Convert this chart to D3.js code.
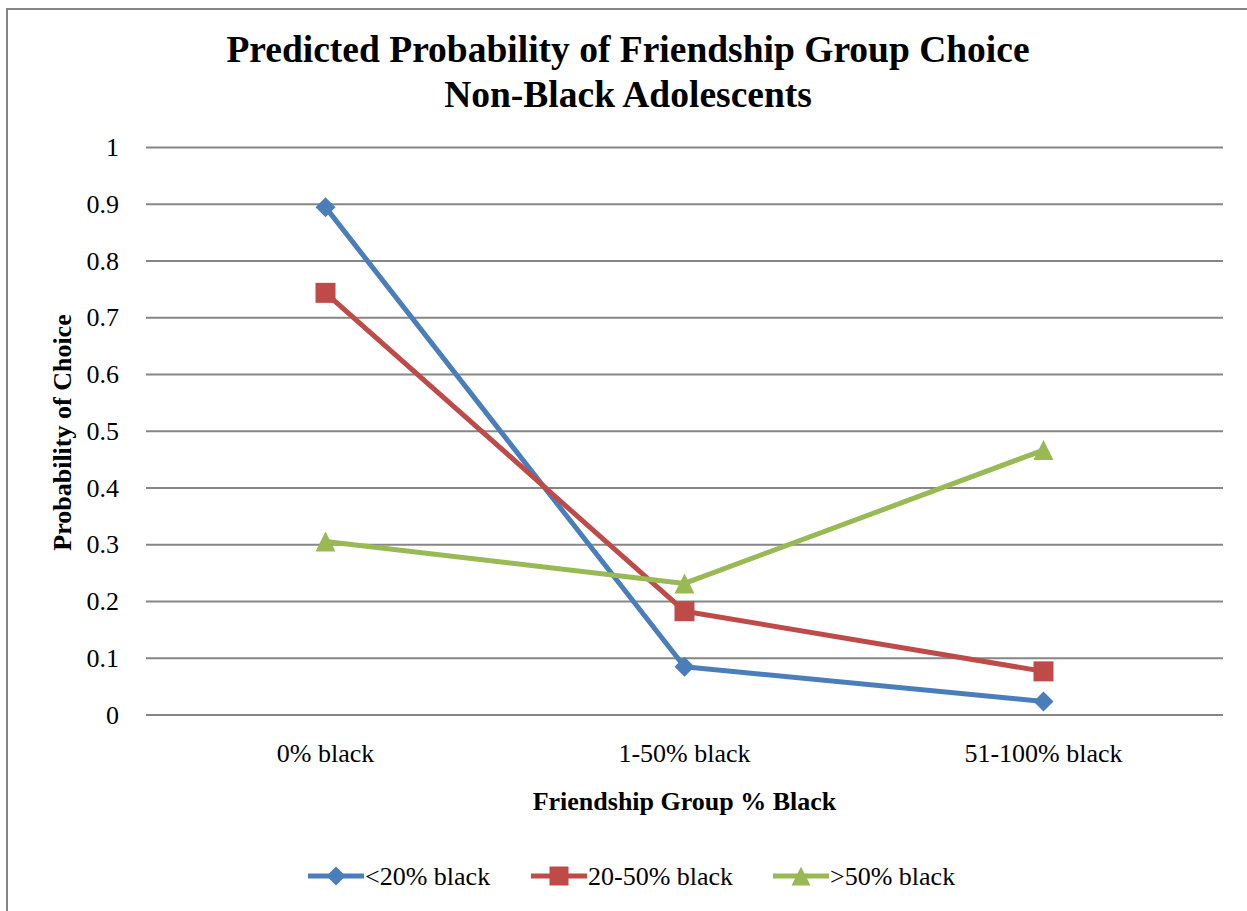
<!DOCTYPE html>
<html>
<head>
<meta charset="utf-8">
<script src="https://cdnjs.cloudflare.com/ajax/libs/d3/7.8.5/d3.min.js"></script>
<style>
  body { margin: 0; background: #fff; }
  text { font-family: "Liberation Serif", "Times New Roman", serif; fill: #000; }
</style>
</head>
<body>
<div id="chart"></div>
<script>
const WIDTH = 1247;
const HEIGHT = 911;
const PLOT = { LEFT: 146, RIGHT: 1223, TOP: 147, BOTTOM: 714.5 };

const categories = ['0% black', '1-50% black', '51-100% black'];
const seriesNames = ['<20% black', '20-50% black', '>50% black'];
const lt20 = [0.894, 0.084, 0.023];
const mid20_50 = [0.743, 0.182, 0.076];
const gt50 = [0.305, 0.231, 0.466];
const yTicks = [0, 0.1, 0.2, 0.3, 0.4, 0.5, 0.6, 0.7, 0.8, 0.9, 1];

const colors = ['#4A7EBB', '#BE4B48', '#98B954'];

// excel-like markers, size = bounding box area
const diamond = { draw(ctx, size) {
  const r = Math.sqrt(size) / 2;
  ctx.moveTo(0, -r); ctx.lineTo(r, 0); ctx.lineTo(0, r); ctx.lineTo(-r, 0); ctx.closePath();
}};
const square = { draw(ctx, size) {
  const r = Math.sqrt(size) / 2;
  ctx.rect(-r, -r, 2 * r, 2 * r);
}};
const triangle = { draw(ctx, size) {
  const r = Math.sqrt(size) / 2;
  ctx.moveTo(0, -r); ctx.lineTo(r, r); ctx.lineTo(-r, r); ctx.closePath();
}};
const symbols = [diamond, square, triangle];

const series = seriesNames.map((name, i) => ({
  name: name,
  values: [lt20, mid20_50, gt50][i],
  color: colors[i],
  symbol: symbols[i]
}));

const svg = d3.select('#chart')
  .append('svg')
    .attr('width', WIDTH)
    .attr('height', HEIGHT);

// chart area border (runs off the right and bottom edges)
svg.append('rect')
  .attr('x', 7)
  .attr('y', 9)
  .attr('width', WIDTH + 20)
  .attr('height', HEIGHT + 20)
  .attr('fill', 'none')
  .attr('stroke', '#868686')
  .attr('stroke-width', 2);

const xscale = d3.scaleBand().domain(categories).range([PLOT.LEFT, PLOT.RIGHT]);
const yscale = d3.scaleLinear().domain([0, 1]).range([PLOT.BOTTOM, PLOT.TOP]);
const xpos = c => xscale(c) + xscale.bandwidth() / 2;

// gridlines + y labels
const yAxis = svg.append('g')
  .attr('transform', `translate(${PLOT.LEFT}, 0)`)
  .call(d3.axisLeft(yscale)
    .tickValues(yTicks)
    .tickSize(-(PLOT.RIGHT - PLOT.LEFT))
    .tickPadding(27)
    .tickFormat(d3.format('')));

yAxis.select('.domain').remove();
yAxis.selectAll('.tick line')
  .attr('stroke', '#868686')
  .attr('stroke-width', 2);
yAxis.selectAll('.tick text')
  .style('font-family', '"Liberation Serif", serif')
  .style('font-size', '26px')
  .attr('fill', '#000')
  .attr('dy', '0.33em');

// category labels
const xAxis = svg.append('g')
  .attr('transform', `translate(0, ${PLOT.BOTTOM})`)
  .call(d3.axisBottom(xscale).tickSize(0).tickPadding(0));

xAxis.select('.domain').remove();
xAxis.selectAll('.tick text')
  .style('font-family', '"Liberation Serif", serif')
  .style('font-size', '26px')
  .attr('fill', '#000')
  .attr('dy', null)
  .attr('y', 47);

// titles
const title = svg.append('text')
  .attr('text-anchor', 'middle')
  .style('font-size', '37.5px')
  .style('font-weight', 'bold');
title.append('tspan').attr('x', 628).attr('y', 62).text('Predicted Probability of Friendship Group Choice');
title.append('tspan').attr('x', 628).attr('y', 107).text('Non-Black Adolescents');

svg.append('text')
  .attr('x', 684.5)
  .attr('y', 810)
  .attr('text-anchor', 'middle')
  .style('font-size', '26px')
  .style('font-weight', 'bold')
  .text('Friendship Group % Black');

svg.append('text')
  .attr('transform', 'translate(71, 432.5) rotate(-90)')
  .attr('text-anchor', 'middle')
  .style('font-size', '26px')
  .style('font-weight', 'bold')
  .text('Probability of Choice');

// lines and markers
const line = d3.line()
  .x((d, i) => xpos(categories[i]))
  .y(d => yscale(d));

const groups = svg.selectAll('.series')
  .data(series)
  .enter()
  .append('g')
    .attr('class', 'series');

groups.append('path')
  .attr('d', d => line(d.values))
  .attr('fill', 'none')
  .attr('stroke', d => d.color)
  .attr('stroke-width', 5)
  .attr('stroke-linejoin', 'round');

groups.each(function(s) {
  d3.select(this).selectAll('path.marker')
    .data(s.values)
    .enter()
    .append('path')
      .attr('class', 'marker')
      .attr('d', d3.symbol().type(s.symbol).size(400))
      .attr('transform', (d, i) => `translate(${xpos(categories[i])}, ${yscale(d)})`)
      .attr('fill', s.color);
});

// legend
const legendX = [308, 531, 773];
const legend = svg.selectAll('.legend')
  .data(series)
  .enter()
  .append('g')
    .attr('class', 'legend')
    .attr('transform', (d, i) => `translate(${legendX[i]}, 876)`);

legend.append('line')
  .attr('x1', 0)
  .attr('x2', 56)
  .attr('stroke', d => d.color)
  .attr('stroke-width', 5);

legend.append('path')
  .attr('d', d => d3.symbol().type(d.symbol).size(361)())
  .attr('transform', 'translate(28, 0)')
  .attr('fill', d => d.color);

legend.append('text')
  .attr('x', 57)
  .attr('y', 9)
  .style('font-size', '26px')
  .text(d => d.name);
</script>
</body>
</html>
